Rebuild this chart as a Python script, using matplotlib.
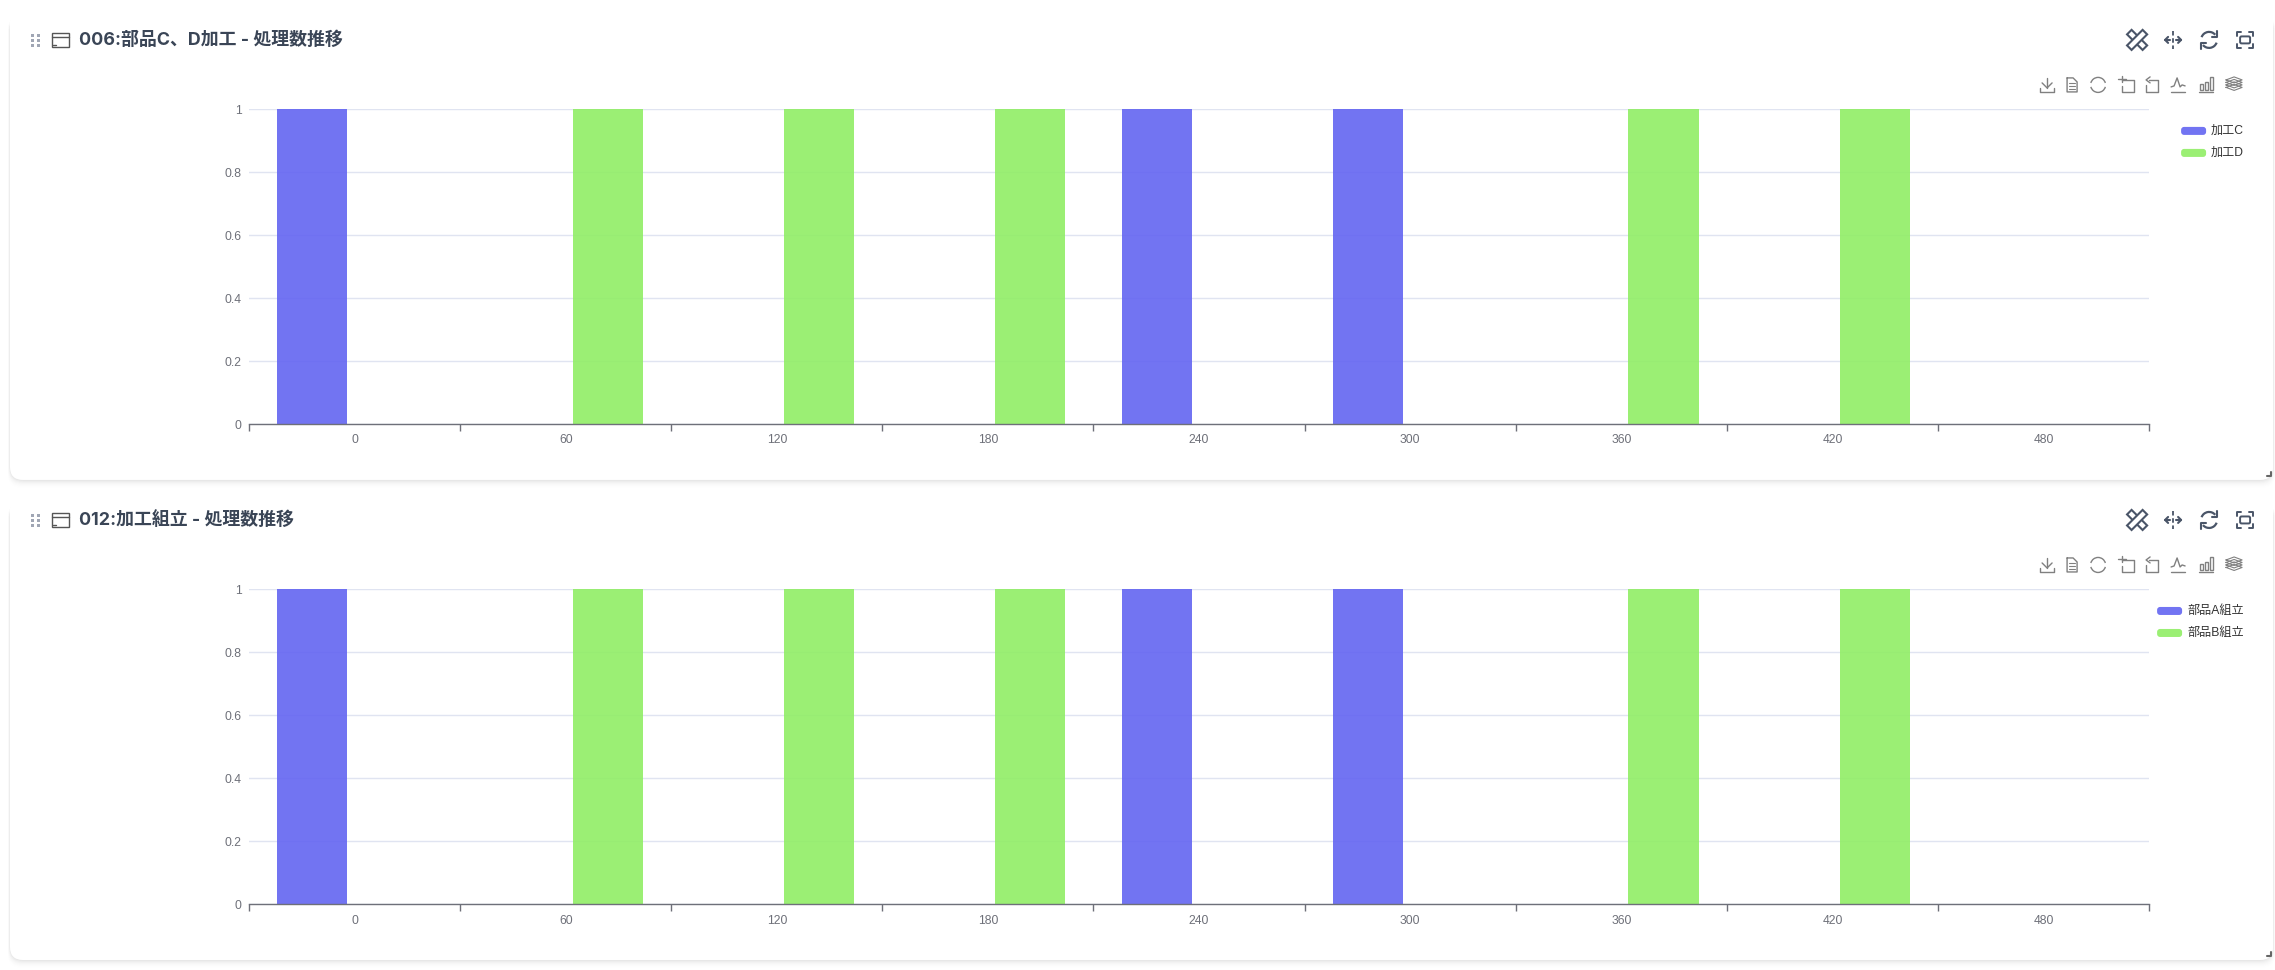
import numpy as np
import matplotlib
matplotlib.use('Agg')
import matplotlib.pyplot as plt
from matplotlib.patches import FancyBboxPatch, Rectangle, Arc, Polygon

W, H = 2275, 970

times = ['0', '60', '120', '180', '240', '300', '360', '420', '480']
y_ticks = [0, 0.2, 0.4, 0.6, 0.8, 1]

title_top = '006:部品C、D加工 - 処理数推移'
names_top = ['加工C', '加工D']
kako_c = [1, 0, 0, 0, 1, 1, 0, 0, 0]
kako_d = [0, 1, 1, 1, 0, 0, 1, 1, 0]

title_bottom = '012:加工組立 - 処理数推移'
names_bottom = ['部品A組立', '部品B組立']
buhin_a = [1, 0, 0, 0, 1, 1, 0, 0, 0]
buhin_b = [0, 1, 1, 1, 0, 0, 1, 1, 0]

BLUE = '#6365f1'
GREEN = '#90ee65'
AXIS = '#6e7079'
GRID = '#e0e4f1'
ICON = '#4a5568'
TOOL = '#808080'
CJK = ['Liberation Sans', 'Noto Sans CJK JP']
TITLE_FONT = ['Inter', 'Noto Sans CJK JP']

# the +.1 keeps the saved height at 970, 9.7*100 rounds down otherwise
fig = plt.figure(figsize=((W + .1) / 100, (H + .1) / 100), dpi=100, facecolor='white')

# whole figure in pixels, cards and toolbars go here
bg = fig.add_axes([0, 0, 1, 1])
bg.set_xlim(0, W)
bg.set_ylim(H, 0)
bg.axis('off')


def line(xs, ys, c=TOOL, lw=1.0, **kw):
    bg.plot(xs, ys, color=c, lw=lw, solid_capstyle='round', **kw)


def card(top, bottom):
    x0, x1 = 10, 2273
    for i, a in zip(range(8, 0, -1), [.004, .005, .007, .009, .012, .015, .018, .022]):
        bg.add_patch(FancyBboxPatch((x0 - i * .3, top + 8), x1 - x0 + i * .6, bottom - top - 8 + i,
                                    boxstyle='round,pad=0,rounding_size=14', fc='black', ec='none', alpha=a))
    bg.add_patch(FancyBboxPatch((x0, top), x1 - x0, bottom - top,
                                boxstyle='round,pad=0,rounding_size=13', fc='white', ec='none'))
    # resize corner
    line([x1 - 2, x1 - 2, x1 - 6], [bottom - 8, bottom - 4, bottom - 4], c='#666666', lw=1.5)


def pencil(cx, cy):
    # two crossing outlined strips
    for ang in (45, -45):
        t = np.radians(ang)
        ux, uy = np.cos(t), np.sin(t)
        vx, vy = -uy, ux
        pts = [(cx + a * ux + b * vx, cy + a * uy + b * vy)
               for a, b in ((-11, -3.2), (11, -3.2), (11, 3.2), (-11, 3.2))]
        bg.add_patch(Polygon(pts, closed=True, fc='white', ec=ICON, lw=1.5))


def header(dy, title):
    # drag dots
    for x in (31, 37):
        for y in (35, 40, 45):
            bg.add_patch(Rectangle((x, y + dy - 1), 2.6, 2.6, fc='#a0a6b4', ec='none'))
    # panel icon
    bg.add_patch(Rectangle((51.5, 33 + dy), 17, 14, fc='none', ec='#555555', lw=1))
    line([51.5, 68.5], [37 + dy, 37 + dy], c='#555555')
    line([52.5, 55.5], [45 + dy, 45 + dy], c='#555555')
    bg.text(79, 40 + dy, title, fontsize=12.9, family=TITLE_FONT, weight='bold',
            color='#3a4556', va='center', ha='left')

    # top right icons
    y = 40 + dy
    pencil(2137, y)
    line([2173, 2173], [31 + dy, 49 + dy], c=ICON, lw=1.3, linestyle=(0, (2.5, 1.5)))
    line([2165, 2170], [y, y], c=ICON, lw=1.5)
    line([2176, 2181], [y, y], c=ICON, lw=1.5)
    line([2168, 2165, 2168], [y - 3, y, y + 3], c=ICON, lw=1.5)
    line([2178, 2181, 2178], [y - 3, y, y + 3], c=ICON, lw=1.5)
    bg.add_patch(Arc((2209, y), 16, 16, theta1=200, theta2=320, ec=ICON, lw=1.6))
    bg.add_patch(Arc((2209, y), 16, 16, theta1=20, theta2=140, ec=ICON, lw=1.6))
    line([2217, 2217, 2212], [31 + dy, 37 + dy, 37 + dy], c=ICON, lw=1.5)
    line([2201, 2201, 2206], [49 + dy, 43 + dy, 43 + dy], c=ICON, lw=1.5)
    for sx in (-1, 1):
        for sy in (-1, 1):
            line([2245 + sx * 8, 2245 + sx * 8, 2245 + sx * 4], [y + sy * 4, y + sy * 8, y + sy * 8], c=ICON, lw=1.4)
    bg.add_patch(FancyBboxPatch((2240, y - 3.5), 10, 7, boxstyle='round,pad=0,rounding_size=1.5',
                                fc='none', ec=ICON, lw=1.4))

    # chart toolbox
    y = 85 + dy
    line([2047, 2047], [y - 7, y + 3])
    line([2042, 2047, 2052], [y - 2, y + 3, y - 2])
    line([2040, 2040, 2054, 2054], [y + 3, y + 7, y + 7, y + 3])
    line([2067, 2073, 2077, 2077, 2067, 2067], [y - 7, y - 7, y - 3, y + 7, y + 7, y - 7])
    for k in (-2, 1, 4):
        line([2069, 2075], [y + k, y + k], lw=.8)
    bg.add_patch(Arc((2098, y), 15, 15, theta1=15, theta2=165, ec=TOOL, lw=1))
    bg.add_patch(Arc((2098, y), 15, 15, theta1=195, theta2=345, ec=TOOL, lw=1))
    line([2122, 2134, 2134, 2122, 2122], [y - 5, y - 5, y + 7, y + 7, y + 1])
    line([2118, 2126], [y - 6, y - 6])
    line([2122, 2122], [y - 9, y - 3])
    line([2149, 2158, 2158, 2146, 2146], [y - 5, y - 5, y + 7, y + 7, y])
    line([2150, 2146, 2150], [y - 8, y - 5, y - 2])
    line([2171, 2185], [y + 7, y + 7])
    line([2171, 2174, 2177, 2180, 2182, 2185], [y + 2, y + 1, y - 7, y + 2, y, y + 1])
    line([2199, 2213], [y + 7, y + 7])
    for x0, h in ((2200, 6), (2205, 8), (2209.5, 13)):
        bg.add_patch(Rectangle((x0, y + 5 - h), 3, h, fc='none', ec=TOOL, lw=1))
    for k in (-5, -2.5, 0, 2.5):
        bg.plot([2226, 2234, 2242, 2234, 2226], [y + k, y - 3 + k, y + k, y + 3 + k, y + k], color=TOOL, lw=.8)


def legend(x, y, names):
    for k, (name, col) in enumerate(zip(names, (BLUE, GREEN))):
        yy = y + k * 22
        bg.add_patch(FancyBboxPatch((x, yy - 4), 25, 8, boxstyle='round,pad=0,rounding_size=3',
                                    fc=col, ec='none', alpha=.9))
        bg.text(x + 30, yy - .5, name, fontsize=8.7, family=CJK, color='#333333', va='center', ha='left')


def chart(top, bottom, s1, s2):
    left, right = 249, 2149
    ax = fig.add_axes([left / W, 1 - bottom / H, (right - left) / W, (bottom - top) / H])
    ax.patch.set_alpha(0)
    x = np.arange(len(times))
    ax.bar(x - .2, s1, width=.332, color=BLUE, alpha=.9, linewidth=0)
    ax.bar(x + .2, s2, width=.332, color=GREEN, alpha=.9, linewidth=0)
    ax.set_xlim(-.5, len(times) - .5)
    ax.set_ylim(0, 1)
    ax.set_xticks(np.arange(len(times) + 1) - .5)
    ax.set_xticklabels([])
    ax.set_xticks(x, minor=True)
    ax.set_xticklabels(times, minor=True, family=CJK, fontsize=8.7, color=AXIS)
    ax.tick_params(axis='x', which='major', length=5, width=1, color=AXIS)
    ax.tick_params(axis='x', which='minor', length=0, pad=7.5)
    ax.set_yticks(y_ticks)
    ax.set_yticklabels(['0', '0.2', '0.4', '0.6', '0.8', '1'], family=CJK, fontsize=8.7, color=AXIS)
    ax.tick_params(axis='y', length=0, pad=5.5)
    ax.grid(axis='y', color=GRID, lw=1)
    ax.set_axisbelow(True)
    for s in ('top', 'right', 'left'):
        ax.spines[s].set_visible(False)
    ax.spines['bottom'].set_color(AXIS)
    ax.spines['bottom'].set_linewidth(1)


card(8, 480)
card(495, 960)

header(0, title_top)
header(480, title_bottom)

legend(2181, 131, names_top)
legend(2157, 611, names_bottom)

chart(109, 424, kako_c, kako_d)
chart(589, 904, buhin_a, buhin_b)

fig.savefig('out.png', dpi=100)
